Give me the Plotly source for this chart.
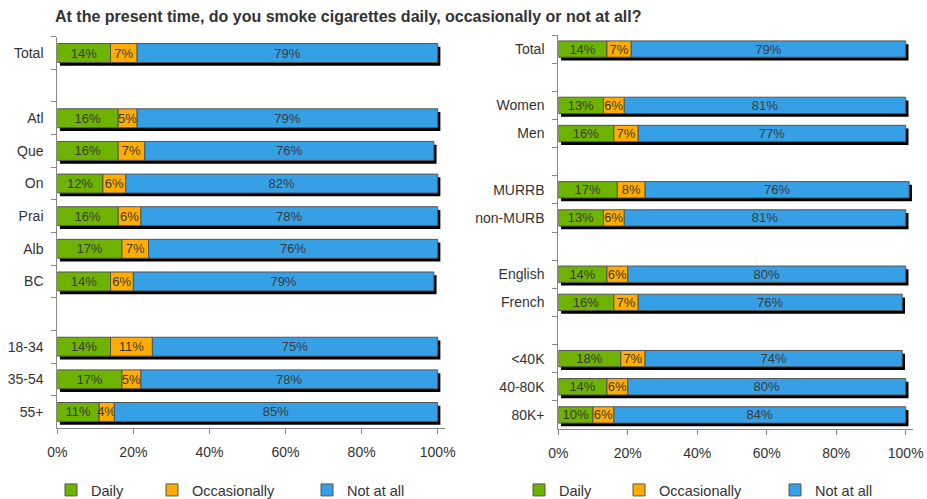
import plotly.graph_objects as go

title_text = "At the present time, do you smoke cigarettes daily, occasionally or not at all?"
series_names = ["Daily", "Occasionally", "Not at all"]
series_colors = ["#6DB300", "#FFAD00", "#36A0E6"]

# Left panel (blank-named rows are spacer rows)
left_categories = ["Total", " ", "Atl", "Que", "On", "Prai", "Alb", "BC", "  ", "18-34", "35-54", "55+"]
left_daily =        [14, None, 16, 16, 12, 16, 17, 14, None, 14, 17, 11]
left_occasionally = [7,  None, 5,  7,  6,  6,  7,  6,  None, 11, 5,  4]
left_not_at_all =   [79, None, 79, 76, 82, 78, 76, 79, None, 75, 78, 85]

# Right panel
right_categories = ["Total", " ", "Women", "Men", "  ", "MURRB", "non-MURB", "   ",
                    "English", "French", "    ", "<40K", "40-80K", "80K+"]
right_daily =        [14, None, 13, 16, None, 17, 13, None, 14, 16, None, 18, 14, 10]
right_occasionally = [7,  None, 6,  7,  None, 8,  6,  None, 6,  7,  None, 7,  6,  6]
right_not_at_all =   [79, None, 81, 77, None, 76, 81, None, 80, 76, None, 74, 80, 84]

x_tick_values = [0, 20, 40, 60, 80, 100]
x_tick_labels = ["0%", "20%", "40%", "60%", "80%", "100%"]

FONT = "Liberation Sans, Arial, sans-serif"
W, H = 927, 499
BAR_W = 0.58

fig = go.Figure()


def add_panel(cats, series, xa, ya, legends, shadow_dx, shadow_dy):
    n = len(cats)
    totals = []
    for i in range(n):
        vals = [s[i] for s in series]
        totals.append(None if vals[0] is None else sum(vals))
    # drop shadow behind each bar
    fig.add_trace(go.Bar(
        y=cats, x=totals, base=[shadow_dx] * n, orientation="h",
        width=BAR_W, offset=-BAR_W / 2 + shadow_dy,
        marker=dict(color="#000000", line=dict(width=0)),
        showlegend=False, hoverinfo="skip", xaxis=xa, yaxis=ya))
    cum = [0 if v is not None else None for v in series[0]]
    for k, (vals, name, col) in enumerate(zip(series, series_names, series_colors)):
        base = list(cum)
        fig.add_trace(go.Bar(
            y=cats, x=vals, base=base, orientation="h", name=name,
            width=BAR_W, offset=-BAR_W / 2,
            marker=dict(color=col, line=dict(color="#555555", width=1)),
            text=["" if v is None else f"{v}%" for v in vals],
            textposition="inside", insidetextanchor="middle", constraintext="none",
            textangle=0, textfont=dict(color="#3a3a3a", size=13, family=FONT),
            legend=legends[k], xaxis=xa, yaxis=ya, hoverinfo="skip"))
        cum = [None if c is None else c + v for c, v in zip(cum, vals)]


add_panel(left_categories, [left_daily, left_occasionally, left_not_at_all], "x", "y",
          ["legend", "legend2", "legend3"], 0.7, 0.1)
add_panel(right_categories, [right_daily, right_occasionally, right_not_at_all], "x2", "y2",
          ["legend4", "legend5", "legend6"], 0.8, 0.115)

XMAX = 102
lx0, lpx = 57.3, 3.804
rx0, rpx = 558.3, 3.474

common_x = dict(range=[0, XMAX], tickvals=x_tick_values, ticktext=x_tick_labels,
                ticks="outside", ticklen=5, tickcolor="#888888", showline=True,
                linecolor="#888888", showgrid=False, zeroline=False, fixedrange=True,
                automargin=False, ticklabelstandoff=6,
                tickfont=dict(size=14, color="#333333", family=FONT))
common_y = dict(type="category", tickson="boundaries", ticks="outside", ticklen=5,
                tickcolor="#888888", showline=True, linecolor="#888888", showgrid=False,
                zeroline=False, fixedrange=True, ticklabelstandoff=10, automargin=False,
                tickfont=dict(size=14, color="#333333", family=FONT))


def leg(xpx):
    return dict(x=xpx / W, y=1 - 490 / H, xref="container", yref="container",
                xanchor="left", yanchor="middle",
                orientation="h", bgcolor="rgba(0,0,0,0)",
                font=dict(size=14.5, color="#333333", family=FONT))


fig.update_layout(
    width=W, height=H, barmode="overlay",
    margin=dict(l=0, r=0, t=0, b=0, autoexpand=False),
    paper_bgcolor="white", plot_bgcolor="white",
    font=dict(family=FONT, color="#333333"),
    title=dict(text="<b>" + title_text + "</b>", x=55 / W, xanchor="left",
               xref="container", yref="container",
               y=1 - 16 / H, yanchor="middle",
               font=dict(size=16, color="#333333", family=FONT)),
    xaxis=dict(domain=[lx0 / W, (lx0 + lpx * XMAX) / W], anchor="y", **common_x),
    yaxis=dict(domain=[1 - 428.3 / H, 1 - 36.7 / H], anchor="x",
               categoryorder="array", categoryarray=left_categories,
               range=[len(left_categories) - 0.5, -0.5], **common_y),
    xaxis2=dict(domain=[rx0 / W, (rx0 + rpx * XMAX) / W], anchor="y2", **common_x),
    yaxis2=dict(domain=[1 - 429 / H, 1 - 35 / H], anchor="x2",
                categoryorder="array", categoryarray=right_categories,
                range=[len(right_categories) - 0.5, -0.5], **common_y),
    legend=leg(51), legend2=leg(152), legend3=leg(307),
    legend4=leg(519), legend5=leg(619), legend6=leg(775),
)

fig.write_html("out.html", config={"displayModeBar": False},
               post_script="document.body.style.margin='0px';document.body.style.overflow='hidden';")
